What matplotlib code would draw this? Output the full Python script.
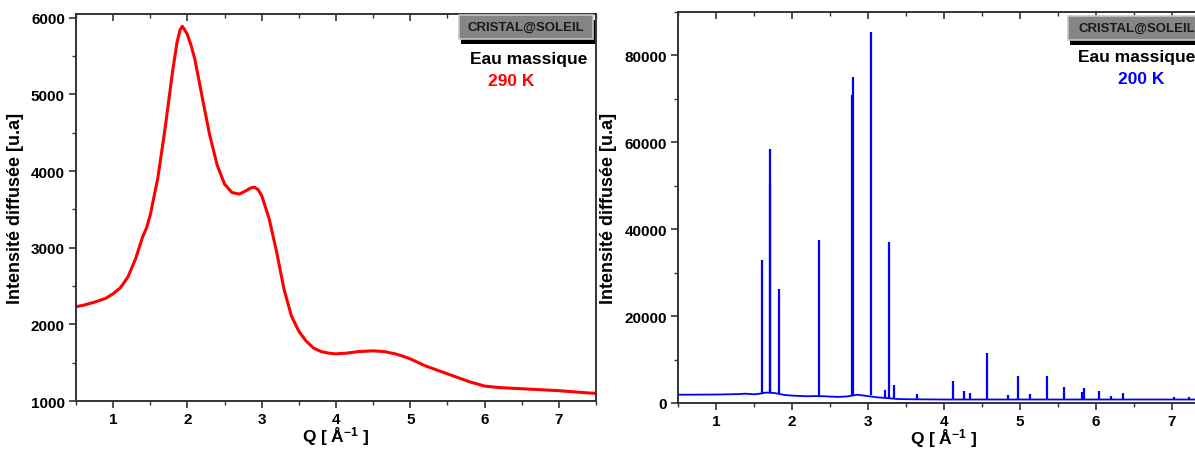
import matplotlib
matplotlib.use("Agg")
import matplotlib.pyplot as plt
import matplotlib.patches as mpatches
from matplotlib.ticker import MultipleLocator

plt.rcParams["font.family"] = ["Liberation Sans", "DejaVu Sans"]
plt.rcParams["font.weight"] = "bold"
plt.rcParams["mathtext.fontset"] = "custom"
plt.rcParams["mathtext.rm"] = "Liberation Sans:bold"
plt.rcParams["mathtext.bf"] = "Liberation Sans:bold"
plt.rcParams["mathtext.it"] = "Liberation Sans:bold"

# --- 290 K: liquid water, broad structure factor ---
q_290 = [0.50, 0.60, 0.75, 0.90, 1.00, 1.10, 1.20, 1.30, 1.40, 1.45, 1.50, 1.60,
         1.70, 1.80, 1.86, 1.90, 1.93, 1.96, 2.00, 2.05, 2.10, 2.20, 2.30, 2.40,
         2.50, 2.60, 2.70, 2.80, 2.85, 2.90, 2.95, 3.00, 3.10, 3.20, 3.30, 3.40,
         3.50, 3.60, 3.70, 3.80, 3.90, 4.00, 4.15, 4.30, 4.50, 4.65, 4.80, 4.90,
         5.00, 5.20, 5.40, 5.60, 5.80, 6.00, 6.20, 6.40, 6.60, 6.80, 7.00, 7.20,
         7.40, 7.50]
i_290 = [2230, 2250, 2290, 2340, 2400, 2480, 2620, 2850, 3150, 3260, 3430, 3900,
         4560, 5300, 5680, 5840, 5890, 5850, 5780, 5640, 5460, 4960, 4470, 4080,
         3830, 3720, 3700, 3750, 3780, 3790, 3760, 3680, 3380, 2950, 2460, 2110,
         1910, 1780, 1690, 1645, 1625, 1615, 1625, 1645, 1655, 1645, 1615, 1585,
         1550, 1460, 1390, 1320, 1250, 1195, 1175, 1165, 1155, 1145, 1135, 1120,
         1105, 1100]

# --- 200 K: crystalline ice, smooth background + Bragg peaks ---
q_bg = [0.50, 1.00, 1.30, 1.38, 1.50, 1.58, 1.66, 1.77, 1.90, 2.00, 2.20, 2.30,
        2.42, 2.60, 2.72, 2.86, 2.95, 3.12, 3.20, 3.40, 3.60, 4.00, 4.50, 5.00,
        5.50, 6.00, 6.50, 7.00, 7.50]
i_bg = [1900, 1950, 2050, 2150, 2000, 2150, 2400, 2300, 1850, 1700, 1550, 1600,
        1550, 1400, 1500, 1900, 1700, 1300, 1200, 900, 850, 800, 800, 800,
        800, 800, 800, 800, 800]

peak_q = [1.61, 1.705, 1.715, 1.83, 2.35, 2.79, 2.80, 3.04, 3.22, 3.28, 3.34,
          3.65, 4.12, 4.26, 4.34, 4.57, 4.84, 4.97, 5.13, 5.36, 5.58, 5.82, 5.84,
          6.04, 6.20, 6.35, 7.03, 7.22, 7.40]
peak_i = [33000, 50500, 58500, 26300, 37500, 70800, 75000, 85400, 3000, 37100, 4200,
          2000, 5000, 2700, 2300, 11400, 1900, 6100, 2100, 6200, 3600, 2600, 3400,
          2800, 1500, 2300, 1300, 1400, 1500]
peak_base = [2100, 2250, 2250, 2200, 1550, 1500, 1500, 1900, 1200, 1050, 950,
             850, 800, 800, 800, 800, 800, 800, 800, 800, 800, 800, 800,
             800, 800, 800, 800, 800, 800]

fig = plt.figure(figsize=(11.95, 4.52), dpi=100)
fig.patch.set_facecolor("white")

ax1 = fig.add_axes([0.0636, 0.1106, 0.4351, 0.8562])
ax2 = fig.add_axes([0.5674, 0.1062, 0.4452, 0.8650])


def _style(ax, major_y, minor_y):
    ax.xaxis.set_major_locator(MultipleLocator(1))
    ax.xaxis.set_minor_locator(MultipleLocator(0.5))
    ax.yaxis.set_major_locator(MultipleLocator(major_y))
    ax.yaxis.set_minor_locator(MultipleLocator(minor_y))
    ax.tick_params(axis="x", which="both", direction="out", top=False, labelsize=11, pad=3)
    ax.tick_params(axis="y", which="both", direction="out", right=False, labelsize=11, pad=3)
    ax.tick_params(which="major", length=5, width=1.2, color="#333333")
    ax.tick_params(which="minor", length=3, width=1.0, color="#333333")
    sec = ax.secondary_xaxis("top")
    sec.xaxis.set_major_locator(MultipleLocator(1))
    sec.xaxis.set_minor_locator(MultipleLocator(0.5))
    sec.tick_params(which="both", direction="in", labeltop=False, color="#333333")
    sec.tick_params(which="major", length=5, width=1.2)
    sec.tick_params(which="minor", length=3, width=1.0)
    sec.spines["top"].set_visible(False)
    for s in ax.spines.values():
        s.set_linewidth(1.4)
        s.set_color("#333333")
    for lab in ax.get_xticklabels() + ax.get_yticklabels():
        lab.set_fontweight("bold")
    ax.set_xlabel(r"Q [ Å$^{-1}$ ]", fontsize=12.5, fontweight="bold", labelpad=-1)
    ax.set_ylabel("Intensité diffusée [u.a]", fontsize=13, fontweight="bold", labelpad=5)


def _badge(ax, x0, y0, w, h, name_y, temp_y, temp, color, name_x, temp_x):
    ax.add_patch(mpatches.Rectangle((x0 + 0.003, y0 - 0.012), w, h, transform=ax.transAxes,
                                    facecolor="black", edgecolor="none", clip_on=False, zorder=6))
    ax.add_patch(mpatches.Rectangle((x0, y0), w, h, transform=ax.transAxes,
                                    facecolor="#858585", edgecolor="#c8c8c8", linewidth=1.2,
                                    clip_on=False, zorder=7))
    ax.text(x0 + w / 2, y0 + h / 2, "CRISTAL@SOLEIL", transform=ax.transAxes,
            ha="center", va="center", fontsize=9.5, fontweight="bold", color="#1a1a1a", zorder=8)
    ax.text(name_x, name_y, "Eau massique", transform=ax.transAxes, ha="center", va="center",
            fontsize=12.5, fontweight="bold", color="black", zorder=8)
    ax.text(temp_x, temp_y, temp, transform=ax.transAxes, ha="center", va="center",
            fontsize=12.5, fontweight="bold", color=color, zorder=8)


# --- left panel: 290 K ---
ax1.plot(q_290, i_290, color="#ff0000", linewidth=2.2)
ax1.set_xlim(0.5, 7.5)
ax1.set_ylim(1000, 6050)
_style(ax1, 1000, 500)
_badge(ax1, 0.737, 0.935, 0.258, 0.062, 0.885, 0.828, "290 K", "#ff0000", 0.870, 0.837)

# --- right panel: 200 K ---
ax2.plot(q_bg, i_bg, color="#0000ff", linewidth=1.3)
ax2.vlines(peak_q, peak_base, peak_i, color="#0000ff", linewidth=1.6)
ax2.set_xlim(0.5, 7.5)
ax2.set_ylim(0, 90000)
_style(ax2, 20000, 10000)
_badge(ax2, 0.733, 0.928, 0.26, 0.062, 0.885, 0.829, "200 K", "#0000ff", 0.863, 0.870)

fig.savefig("out.png", dpi=100)
